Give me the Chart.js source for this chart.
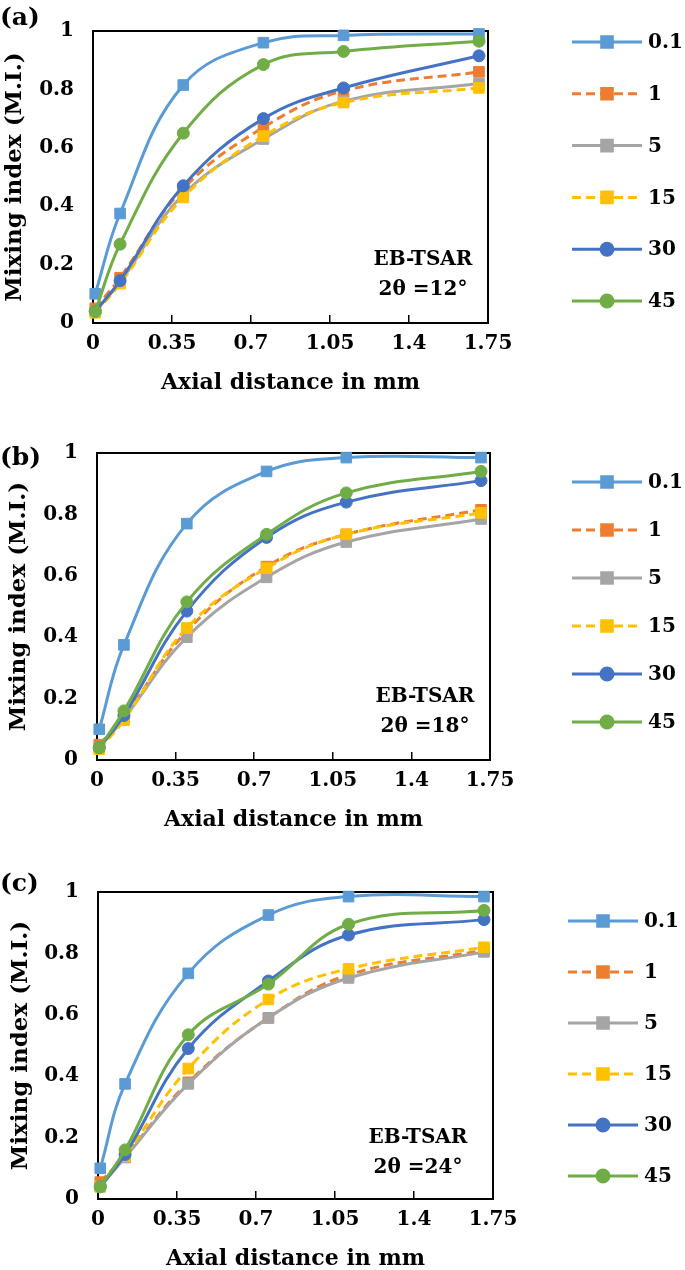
<!DOCTYPE html>
<html>
<head>
<meta charset="utf-8">
<script src="https://cdn.jsdelivr.net/npm/chart.js@4.4.0/dist/chart.umd.min.js"></script>
<style>
    body { margin: 0; background: #fff; width: 685px; height: 1270px; overflow: hidden; }
    .panel { position: absolute; left: 0; width: 685px; }
</style>
</head>
<body>
<div class="panel" style="top:0;height:420px"><canvas id="chartA"></canvas></div>
<div class="panel" style="top:420px;height:440px"><canvas id="chartB"></canvas></div>
<div class="panel" style="top:860px;height:410px"><canvas id="chartC"></canvas></div>
<script>
// Axial positions of the sampling planes (mm)
const axialDistance = [0.01, 0.12, 0.40, 0.755, 1.11, 1.71];
const xTicks = [0, 0.35, 0.7, 1.05, 1.4, 1.75];
const yTicks = [0, 0.2, 0.4, 0.6, 0.8, 1];
const seriesNames = ['0.1', '1', '5', '15', '30', '45'];

// (a) 2θ = 12°
const a01 = [0.10, 0.375, 0.815, 0.96, 0.985, 0.99];
const a1  = [0.05, 0.155, 0.46, 0.67, 0.795, 0.86];
const a5  = [0.04, 0.14, 0.44, 0.63, 0.76, 0.82];
const a15 = [0.035, 0.135, 0.43, 0.64, 0.755, 0.805];
const a30 = [0.04, 0.145, 0.47, 0.70, 0.805, 0.915];
const a45 = [0.04, 0.27, 0.65, 0.885, 0.93, 0.965];

// (b) 2θ = 18°
const b01 = [0.10, 0.375, 0.77, 0.94, 0.985, 0.985];
const b1  = [0.05, 0.14, 0.42, 0.63, 0.735, 0.815];
const b5  = [0.04, 0.135, 0.40, 0.595, 0.71, 0.785];
const b15 = [0.035, 0.13, 0.43, 0.625, 0.735, 0.805];
const b30 = [0.04, 0.145, 0.485, 0.725, 0.84, 0.91];
const b45 = [0.04, 0.16, 0.515, 0.735, 0.87, 0.94];

// (c) 2θ = 24°
const c01 = [0.10, 0.375, 0.735, 0.925, 0.985, 0.985];
const c1  = [0.055, 0.14, 0.38, 0.59, 0.73, 0.81];
const c5  = [0.04, 0.135, 0.375, 0.59, 0.72, 0.805];
const c15 = [0.04, 0.14, 0.425, 0.65, 0.75, 0.82];
const c30 = [0.04, 0.145, 0.49, 0.71, 0.86, 0.91];
const c45 = [0.04, 0.16, 0.535, 0.70, 0.895, 0.94];

// Office palette used by the original plot
const colors = ['#5B9BD5', '#ED7D31', '#A5A5A5', '#FFC000', '#4472C4', '#70AD47'];
const markers = ['rect', 'rect', 'rect', 'rect', 'circle', 'circle'];
const dashed = [false, true, false, true, false, false];

const FONT = "'DejaVu Serif', serif";

// Frame around the plot area (Excel draws a full box)
const framePlugin = {
    id: 'frame',
    beforeDatasetsDraw(chart) {
        const { ctx, chartArea: a } = chart;
        ctx.save();
        ctx.strokeStyle = '#000';
        ctx.lineWidth = 2;
        ctx.strokeRect(a.left, a.top, a.right - a.left, a.bottom - a.top);
        ctx.restore();
    }
};

// Panel letter, in-plot annotation and the legend on the right
const textPlugin = {
    id: 'panelText',
    afterDraw(chart, args, opts) {
        const { ctx, chartArea: a } = chart;
        ctx.save();
        ctx.fillStyle = '#000';
        ctx.textBaseline = 'middle';

        ctx.font = `bold 25px ${FONT}`;
        ctx.textAlign = 'left';
        ctx.fillText(opts.letter, 0, opts.letterY);

        ctx.font = `bold 20px ${FONT}`;
        ctx.textAlign = 'center';
        ctx.fillText('EB-TSAR', a.right - opts.noteDx, a.bottom - opts.noteDy);
        ctx.fillText(opts.angle, a.right - opts.noteDx, a.bottom - opts.noteDy + 30);

        // legend
        chart.data.datasets.forEach((ds, i) => {
            const y = opts.legendTop + i * opts.legendStep;
            ctx.strokeStyle = ds.borderColor;
            ctx.lineWidth = 3;
            ctx.setLineDash(ds.borderDash || []);
            ctx.beginPath();
            ctx.moveTo(opts.legendX, y);
            ctx.lineTo(opts.legendX + 70, y);
            ctx.stroke();
            ctx.setLineDash([]);
            ctx.fillStyle = ds.backgroundColor;
            Chart.helpers.drawPoint(ctx, {
                pointStyle: ds.pointStyle, radius: ds.pointRadius, borderWidth: 1, rotation: 0
            }, opts.legendX + 35, y);
            ctx.fillStyle = '#000';
            ctx.textAlign = 'left';
            ctx.fillText(ds.label, opts.legendX + 76, y + 1);
        });
        ctx.restore();
    }
};

function buildDatasets(series) {
    return series.map((values, i) => ({
        label: seriesNames[i],
        data: values.map((v, k) => ({ x: axialDistance[k], y: v })),
        borderColor: colors[i],
        backgroundColor: colors[i],
        pointBackgroundColor: colors[i],
        pointBorderColor: colors[i],
        pointStyle: markers[i],
        pointRadius: markers[i] === 'rect' ? 7.5 : 6,
        pointBorderWidth: 1,
        borderWidth: 3,
        borderDash: dashed[i] ? [9, 5] : [],
        tension: 0.4,
        clip: false,
        order: series.length - i
    }));
}

function makeChart(id, series, panel) {
    const ctx = document.getElementById(id).getContext('2d');
    return new Chart(ctx, {
        type: 'line',
        data: { datasets: buildDatasets(series) },
        plugins: [framePlugin, textPlugin],
        options: {
            responsive: true,
            maintainAspectRatio: false,
            animation: false,
            layout: {
                padding: { top: panel.top, right: 685 - panel.right, bottom: panel.bottom, left: panel.left }
            },
            plugins: {
                legend: { display: false },
                tooltip: { enabled: false },
                panelText: panel.text
            },
            scales: {
                x: {
                    type: 'linear',
                    min: 0,
                    max: 1.75,
                    afterBuildTicks: scale => { scale.ticks = xTicks.map(v => ({ value: v })); },
                    afterFit: scale => { scale.height = 75; },
                    ticks: {
                        callback: v => String(v),
                        color: '#000',
                        padding: 17,
                        maxRotation: 0,
                        autoSkip: false,
                        font: { family: FONT, size: 20, weight: 'bold' }
                    },
                    grid: {
                        drawOnChartArea: false,
                        drawTicks: true,
                        tickLength: -8,
                        color: '#000',
                        lineWidth: 1.5
                    },
                    border: { display: true, color: '#000', width: 2 },
                    title: {
                        display: true,
                        text: 'Axial distance in mm',
                        color: '#000',
                        padding: { top: 0, bottom: 2 },
                        font: { family: FONT, size: 22, weight: 'bold' }
                    }
                },
                y: {
                    type: 'linear',
                    min: 0,
                    max: 1,
                    afterBuildTicks: scale => { scale.ticks = yTicks.map(v => ({ value: v })); },
                    afterFit: scale => { scale.width = panel.axisWidth; },
                    ticks: {
                        callback: v => String(v),
                        color: '#000',
                        padding: 19,
                        font: { family: FONT, size: 20, weight: 'bold' }
                    },
                    grid: { display: false, drawTicks: false },
                    border: { display: true, color: '#000', width: 2 },
                    title: {
                        display: true,
                        text: 'Mixing index (M.I.)',
                        color: '#000',
                        padding: { top: 1, bottom: 0 },
                        font: { family: FONT, size: 23, weight: 'bold' }
                    }
                }
            }
        }
    });
}

makeChart('chartA', [a01, a1, a5, a15, a30, a45], {
    top: 17, bottom: 22, left: 0, right: 488, axisWidth: 93,
    text: { letter: '(a)', letterY: 18, angle: '2θ =12°', noteDx: 65, noteDy: 63,
            legendX: 572, legendTop: 42, legendStep: 51.8 }
});
makeChart('chartB', [b01, b1, b5, b15, b30, b45], {
    top: 33, bottom: 25, left: 4, right: 490, axisWidth: 93,
    text: { letter: '(b)', letterY: 38, angle: '2θ =18°', noteDx: 65, noteDy: 63,
            legendX: 572, legendTop: 62, legendStep: 48 }
});
makeChart('chartC', [c01, c1, c5, c15, c30, c45], {
    top: 32, bottom: -4, left: 6, right: 493, axisWidth: 92,
    text: { letter: '(c)', letterY: 24, angle: '2θ =24°', noteDx: 75, noteDy: 61,
            legendX: 568, legendTop: 61, legendStep: 51 }
});
</script>
</body>
</html>
